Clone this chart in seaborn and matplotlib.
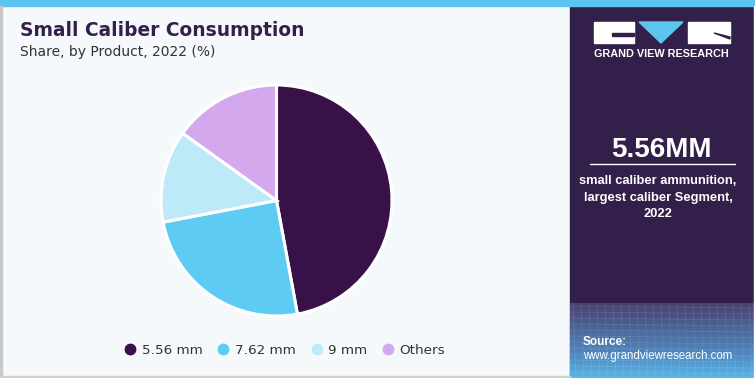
import numpy as np
import matplotlib
matplotlib.use("Agg")
import matplotlib.pyplot as plt
import seaborn as sns
from matplotlib.lines import Line2D
from matplotlib.patches import Rectangle, Polygon
from matplotlib.colors import LinearSegmentedColormap

# ---- data ----
categories = ["5.56 mm", "7.62 mm", "9 mm", "Others"]
shares = [47.1, 24.9, 12.9, 15.1]
colors = ["#371148", "#5ECBF5", "#BEE9F8", "#D4A8EC"]
title = "Small Caliber Consumption"
subtitle = "Share, by Product, 2022 (%)"
highlight = "5.56MM"
highlight_lines = ["small caliber ammunition,", "largest caliber Segment,", "2022"]
brand = "GRAND VIEW RESEARCH"
source_label = "Source:"
source_url = "www.grandviewresearch.com"

sns.set_theme(style="white")
plt.rcParams["font.family"] = ["Liberation Sans", "DejaVu Sans"]

W, H = 755, 378
fig = plt.figure(figsize=(W / 100, H / 100), dpi=100)
fig.patch.set_facecolor("#F5F9FC")

def fx(px):
    return px / W

def fy(py):
    return 1 - py / H

# background overlay axes
bg = fig.add_axes([0, 0, 1, 1])
bg.axis("off")
# right panel
bg.add_patch(Rectangle((570, 0), 185, H, color="#33204A", zorder=1))
# gradient bottom
grad = np.linspace(0, 1, 100).reshape(-1, 1)
cmap = LinearSegmentedColormap.from_list("g", ["#48406E", "#4C6598", "#4F86BE", "#57B5E6"])
bg.imshow(grad, extent=(570, 754, H, 303), cmap=cmap, aspect="auto", zorder=2)
# grid lines hint
for yy in np.arange(306, 378, 6):
    bg.plot([570, 754], [yy, yy + 2], color="white", alpha=0.11, lw=0.6, zorder=3)
for xx in np.arange(573, 754, 8):
    bg.plot([xx, xx + 3], [303, H], color="white", alpha=0.11, lw=0.6, zorder=3)
bg.set_xlim(0, W)
bg.set_ylim(H, 0)
# top bar
bg.add_patch(Rectangle((0, 0), W, 6, color="#5BC5F0", zorder=4))
# left/bottom border
bg.add_patch(Rectangle((0, 6), 1.5, H, color="#C8C8C8", zorder=4))
bg.add_patch(Rectangle((0, H - 2), 570, 2, color="#D0D0D0", zorder=4))
# right edge
bg.add_patch(Rectangle((754, 6), 1, H, color="#FFFFFF", zorder=4))

# logo
bg.add_patch(Rectangle((594, 22), 40, 21, color="white", zorder=5))
bg.add_patch(Rectangle((612, 33), 22, 3, color="#33204A", zorder=6))
bg.add_patch(Polygon([(639, 22), (683, 22), (661, 43)], closed=True, color="#5BC5F0", zorder=5))
bg.add_patch(Rectangle((688, 22), 42, 21, color="white", zorder=5))
bg.add_patch(Polygon([(714, 33), (730, 37), (730, 39)], closed=True, color="#33204A", zorder=6))
bg.text(661, 54, brand, color="white", fontsize=7.8, fontweight="bold", ha="center", va="center", zorder=6)

# highlight text
bg.text(661, 150, highlight, color="white", fontsize=20, fontweight="bold", ha="center", va="center", zorder=6)
bg.plot([590, 735], [164, 164], color="white", lw=1, zorder=6)
for i, line in enumerate(highlight_lines):
    bg.text(658, 181 + i * 16.5, line, color="white", fontsize=9.3, fontweight="bold",
            ha="center", va="center", zorder=6)
bg.text(583, 342, source_label, color="white", fontsize=8.5, fontweight="bold", ha="left", va="center", zorder=6)
bg.text(583, 356, source_url, color="white", fontsize=8.3, ha="left", va="center", zorder=6)

# title
bg.text(20, 31, title, color="#33204A", fontsize=13.4, fontweight="bold", ha="left", va="center", zorder=6,
        family=["DejaVu Sans"])
bg.text(20, 52, subtitle, color="#333333", fontsize=10, ha="left", va="center", zorder=6,
        family=["DejaVu Sans"])

# pie
cx, cy, r = 276.5, 200.5, 115.5
pad = 120
ax = fig.add_axes([fx(cx - pad), fy(cy + pad), 2 * pad / W, 2 * pad / H])
ax.pie(shares, colors=colors, startangle=90, counterclock=False, radius=1,
       wedgeprops=dict(edgecolor="white", linewidth=2.2))
lim = pad / r
ax.set_xlim(-lim, lim)
ax.set_ylim(-lim, lim)
ax.set_aspect("auto")
ax.axis("off")

# legend
handles = [Line2D([0], [0], marker="o", color="none", markerfacecolor=c, markeredgecolor=c,
                  markersize=7.5) for c in colors]
leg = fig.legend(handles, categories, loc="center", bbox_to_anchor=(fx(284), fy(350)), ncol=4,
                 frameon=False, handletextpad=0.3, columnspacing=1.0,
                 handlelength=1.1, labelcolor="#333333",
                 prop={"family": "DejaVu Sans", "size": 9.7})

fig.savefig("out.png", dpi=100, facecolor=fig.get_facecolor())
